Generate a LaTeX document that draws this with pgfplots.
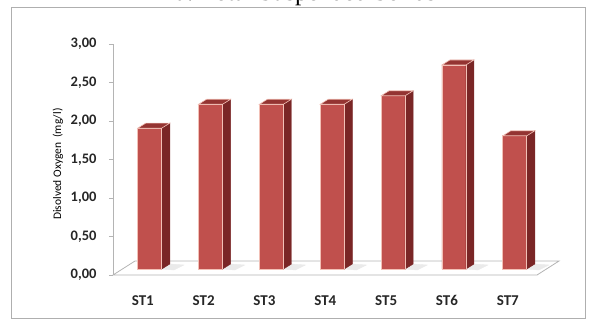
\documentclass[border=0pt]{standalone}
\usepackage{pgfplots}
\pgfplotsset{compat=1.18}
\usepackage{pgfplotstable}
\usepackage{fontspec}
\setmainfont{Carlito}
\newfontfamily\titlefont{Liberation Serif}

\definecolor{barfront}{RGB}{192,80,77}
\definecolor{barside}{RGB}{122,38,38}
\definecolor{bartop}{RGB}{148,52,50}
\definecolor{baredge}{RGB}{242,192,182}
\definecolor{framegray}{RGB}{175,175,175}
\definecolor{floorgray}{RGB}{180,180,180}
\definecolor{shadowgray}{RGB}{234,234,234}
\pgfdeclareplotmark{blank}{}

% dissolved oxygen per station (mg/l)
\pgfplotstableread{
x val
0 1.83
1 2.14
2 2.14
3 2.14
4 2.25
5 2.65
6 1.73
}\dotable

\begin{document}
\begin{tikzpicture}
\path[use as bounding box, clip] (0pt,0pt) rectangle (589pt,327pt);
\node[anchor=base, font=\titlefont\fontsize{25}{28}\selectfont, text=black]
  at (306pt,326.5pt) {a. Total Suspended Solids};
\draw[framegray, line width=0.8pt] (11pt,9pt) rectangle (585pt,320pt);

\begin{axis}[
  at={(113pt,52pt)}, anchor=south west,
  scale only axis, width=424pt, height=231pt,
  xmin=-0.49, xmax=6.48, ymin=0, ymax=3,
  axis x line*=bottom, axis y line*=left,
  x axis line style={draw=none},
  y axis line style={draw=floorgray, -, line width=0.8pt},
  xtick={0,...,6}, xticklabels={ST1,ST2,ST3,ST4,ST5,ST6,ST7},
  major x tick style={draw=none},
  ytick={0,0.5,1,1.5,2,2.5,3},
  major y tick style={draw=floorgray, line width=0.8pt},
  tick align=outside, major tick length=4pt,
  yticklabel style={font=\bfseries\fontsize{14.5}{16}\selectfont, xshift=-9pt, text=black!85},
  xticklabel style={font=\bfseries\fontsize{15}{17}\selectfont, yshift=-13pt, text=black!85},
  /pgf/number format/.cd, fixed, fixed zerofill, precision=2, use comma, assume math mode=true,
  /pgfplots/.cd,
  ylabel={Disolved Oxygen\ \ (mg/l)},
  ylabel style={at={(axis description cs:-0.13,0.48)}, anchor=center,
    font=\fontsize{11.5}{13}\selectfont},
  clip=false,
]
% floor of the 3-D plot area
\draw[floorgray, line width=0.8pt, fill=white]
  (axis cs:-0.49,0) -- (axis cs:6.48,0) -- ++(22pt,14pt)
  -- ([shift={(22pt,14pt)}]axis cs:-0.49,0) -- cycle;

% front faces
\addplot[ybar, bar width=24pt, bar shift=7pt, yshift=6pt,
  fill=barfront, draw=baredge, line width=0.7pt]
  table[x=x, y=val] {\dotable};

% shadows, side and top faces
\addplot[only marks, mark=blank, scatter, xshift=7pt, yshift=6pt,
  visualization depends on={rawy \as \barval},
  scatter/@pre marker code/.code={
    \fill[shadowgray] (12pt,{-\barval*77pt}) -- (20pt,{5pt-\barval*77pt})
      -- (34pt,{4pt-\barval*77pt}) -- (24pt,{-1pt-\barval*77pt}) -- cycle;
    \fill[barside] (12pt,0pt) -- (20pt,5pt) -- (20pt,{5pt-\barval*77pt})
      -- (12pt,{-\barval*77pt}) -- cycle;
    \filldraw[fill=bartop, draw=baredge, line width=0.6pt]
      (-12pt,0pt) -- (12pt,0pt) -- (20pt,5pt) -- (-4pt,5pt) -- cycle;
    \draw[baredge, line width=0.7pt] (12pt,0pt) -- (12pt,{-\barval*77pt});
  },
  scatter/@post marker code/.code={}]
  table[x=x, y=val] {\dotable};
\end{axis}
\end{tikzpicture}
\end{document}
